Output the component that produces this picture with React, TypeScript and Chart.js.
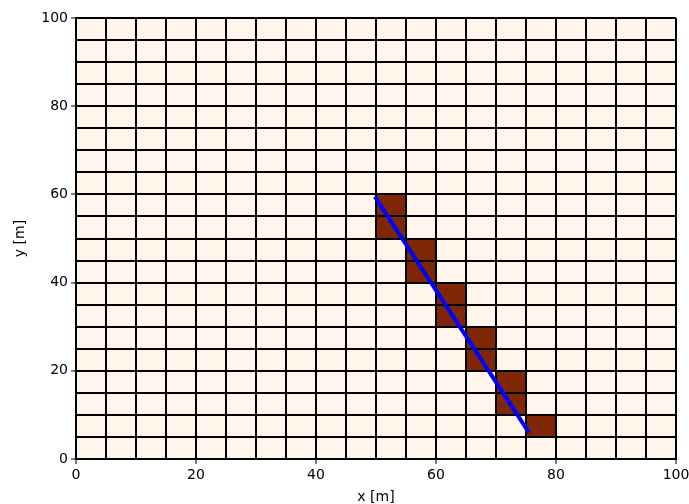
import React, { useEffect, useRef } from "react";
import { Chart, registerables } from "chart.js";

Chart.register(...registerables);

// Grid definition
const xEdgesMin = 0;
const xEdgesMax = 100;
const cellSize = 5;
const tickLabelStep = 20;

// Dark (occupied) cells: column left edge, y range
const darkColX = [50, 55, 60, 65, 70, 75];
const darkYStart = [50, 40, 30, 20, 10, 5];
const darkYEnd = [60, 50, 40, 30, 20, 10];

// Path line
const pathX = [49.8, 75.5];
const pathY = [59.5, 6];

const lightColor = "#fff5eb";
const darkColor = "#7f2704";

const cellsPlugin = {
  id: "cells",
  beforeDraw(chart: any) {
    const { ctx, scales } = chart;
    const xs = scales.x;
    const ys = scales.y;
    ctx.save();
    ctx.fillStyle = lightColor;
    const l = xs.getPixelForValue(xEdgesMin);
    const r = xs.getPixelForValue(xEdgesMax);
    const t = ys.getPixelForValue(xEdgesMax);
    const b = ys.getPixelForValue(xEdgesMin);
    ctx.fillRect(l, t, r - l, b - t);
    ctx.fillStyle = darkColor;
    darkColX.forEach((cx, i) => {
      const x0 = xs.getPixelForValue(cx);
      const x1 = xs.getPixelForValue(cx + cellSize);
      const y0 = ys.getPixelForValue(darkYEnd[i]);
      const y1 = ys.getPixelForValue(darkYStart[i]);
      ctx.fillRect(x0, y0, x1 - x0, y1 - y0);
    });
    ctx.restore();
  },
};

export default function App() {
  const ref = useRef<HTMLCanvasElement | null>(null);
  useEffect(() => {
    document.body.style.margin = "0";
    const font = { family: "DejaVu Sans", size: 14 };
    const tickColor = (c: any) =>
      c.tick && c.tick.value % tickLabelStep === 0 ? "#000" : "rgba(0,0,0,0)";
    const chart = new Chart(ref.current as HTMLCanvasElement, {
      type: "scatter",
      data: {
        datasets: [
          {
            data: pathX.map((x, i) => ({ x, y: pathY[i] })),
            showLine: true,
            borderColor: "#0000ff",
            borderWidth: 4,
            pointRadius: 0,
          },
        ],
      },
      options: {
        animation: false,
        responsive: false,
        maintainAspectRatio: false,
        layout: { padding: { top: 18, right: 13, left: 12, bottom: 0 } },
        plugins: { legend: { display: false }, tooltip: { enabled: false } },
        scales: {
          x: {
            type: "linear",
            min: xEdgesMin,
            max: xEdgesMax,
            ticks: {
              stepSize: cellSize,
              autoSkip: false,
              maxRotation: 0,
              color: "#000",
              font,
              padding: 3,
              callback: (v: any) => (v % tickLabelStep === 0 ? String(v) : ""),
            },
            grid: { color: "#000", lineWidth: 2, tickLength: 5, tickColor, tickWidth: 1 },
            border: { color: "#000", width: 2 },
            title: { display: true, text: "x [m]", color: "#000", font, padding: { top: 4, bottom: -2 } },
            afterFit: (s: any) => {
              s.height = 45;
              s.paddingLeft = 0;
              s.paddingRight = 0;
            },
          },
          y: {
            type: "linear",
            min: xEdgesMin,
            max: xEdgesMax,
            ticks: {
              stepSize: cellSize,
              autoSkip: false,
              color: "#000",
              font,
              padding: 3,
              callback: (v: any) => (v % tickLabelStep === 0 ? String(v) : ""),
            },
            grid: { color: "#000", lineWidth: 2, tickLength: 5, tickColor, tickWidth: 1 },
            border: { color: "#000", width: 2 },
            title: { display: true, text: "y [m]", color: "#000", font, padding: { top: 0, bottom: 4 } },
            afterFit: (s: any) => {
              s.width = 64;
              s.paddingTop = 0;
              s.paddingBottom = 0;
            },
          },
        },
      },
      plugins: [cellsPlugin],
    } as any);
    return () => chart.destroy();
  }, []);
  return <canvas ref={ref} width={689} height={504} style={{ display: "block" }} />;
}
